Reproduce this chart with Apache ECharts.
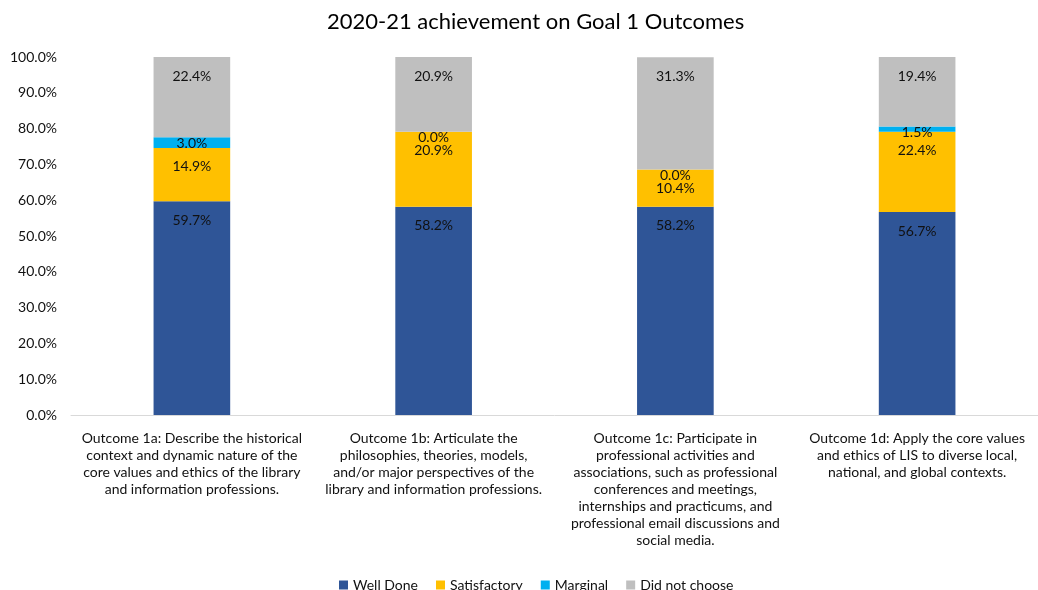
<!DOCTYPE html>
<html>
<head>
<meta charset="utf-8">
<script src="https://cdn.jsdelivr.net/npm/echarts@6/dist/echarts.min.js"></script>
<style>
html, body { margin: 0; padding: 0; background: #fff; }
#main { width: 1038px; height: 590px; }
</style>
</head>
<body>
<div id="main"></div>
<script>
var categories = [
    'Outcome 1a: Describe the historical\ncontext and dynamic nature of the\ncore values and ethics of the library\nand information professions.',
    'Outcome 1b: Articulate the\nphilosophies, theories, models,\nand/or major perspectives of the\nlibrary and information professions.',
    'Outcome 1c: Participate in\nprofessional activities and\nassociations, such as professional\nconferences and meetings,\ninternships and practicums, and\nprofessional email discussions and\nsocial media.',
    'Outcome 1d: Apply the core values\nand ethics of LIS to diverse local,\nnational, and global contexts.'
];
var wellDone = [59.7, 58.2, 58.2, 56.7];
var satisfactory = [14.9, 20.9, 10.4, 22.4];
var marginal = [3.0, 0.0, 0.0, 1.5];
var didNotChoose = [22.4, 20.9, 31.3, 19.4];

var font = 'Lato, "Open Sans", sans-serif';

function makeSeries(name, data, color, dist){
    return {
        name: name,
        type: 'bar',
        stack: 'total',
        barWidth: '31.7%',
        data: data,
        itemStyle: { color: color },
        label: {
            show: true,
            position: 'insideTop',
            distance: dist,
            color: '#111',
            fontSize: 14,
            fontFamily: font,
            formatter: function(p){ return p.value.toFixed(1) + '%'; }
        }
    };
}

var chart = echarts.init(document.getElementById('main'));
chart.setOption({
    animation: false,
    title: {
        text: '2020-21 achievement on Goal 1 Outcomes',
        left: 322,
        top: 6,
        textStyle: { fontFamily: font, fontSize: 22, fontWeight: 'normal', color: '#000' }
    },
    legend: {
        data: ['Well Done', 'Satisfactory', 'Marginal', 'Did not choose'],
        left: 334,
        top: 573,
        itemWidth: 9,
        itemHeight: 9,
        itemGap: 18,
        icon: 'rect',
        textStyle: { fontFamily: font, fontSize: 14, color: '#111' }
    },
    grid: { left: 71, width: 971, top: 57, bottom: 175 },
    xAxis: {
        type: 'category',
        data: categories,
        axisLine: { lineStyle: { color: '#d9d9d9' } },
        axisTick: { show: false },
        axisLabel: {
            interval: 0,
            margin: 15,
            lineHeight: 17,
            fontSize: 14,
            fontFamily: font,
            color: '#111'
        }
    },
    yAxis: {
        type: 'value',
        min: 0,
        max: 100,
        interval: 10,
        splitLine: { show: false },
        axisLine: { show: false },
        axisTick: { show: false },
        axisLabel: {
            margin: 14,
            fontSize: 14,
            fontFamily: font,
            color: '#111',
            formatter: function(v){ return v.toFixed(1) + '%'; }
        }
    },
    series: [
        makeSeries('Well Done', wellDone, '#2F5597', 12),
        makeSeries('Satisfactory', satisfactory, '#FFC000', 12),
        makeSeries('Marginal', marginal, '#00B0F0', -1),
        makeSeries('Did not choose', didNotChoose, '#BFBFBF', 12)
    ]
});
</script>
</body>
</html>
